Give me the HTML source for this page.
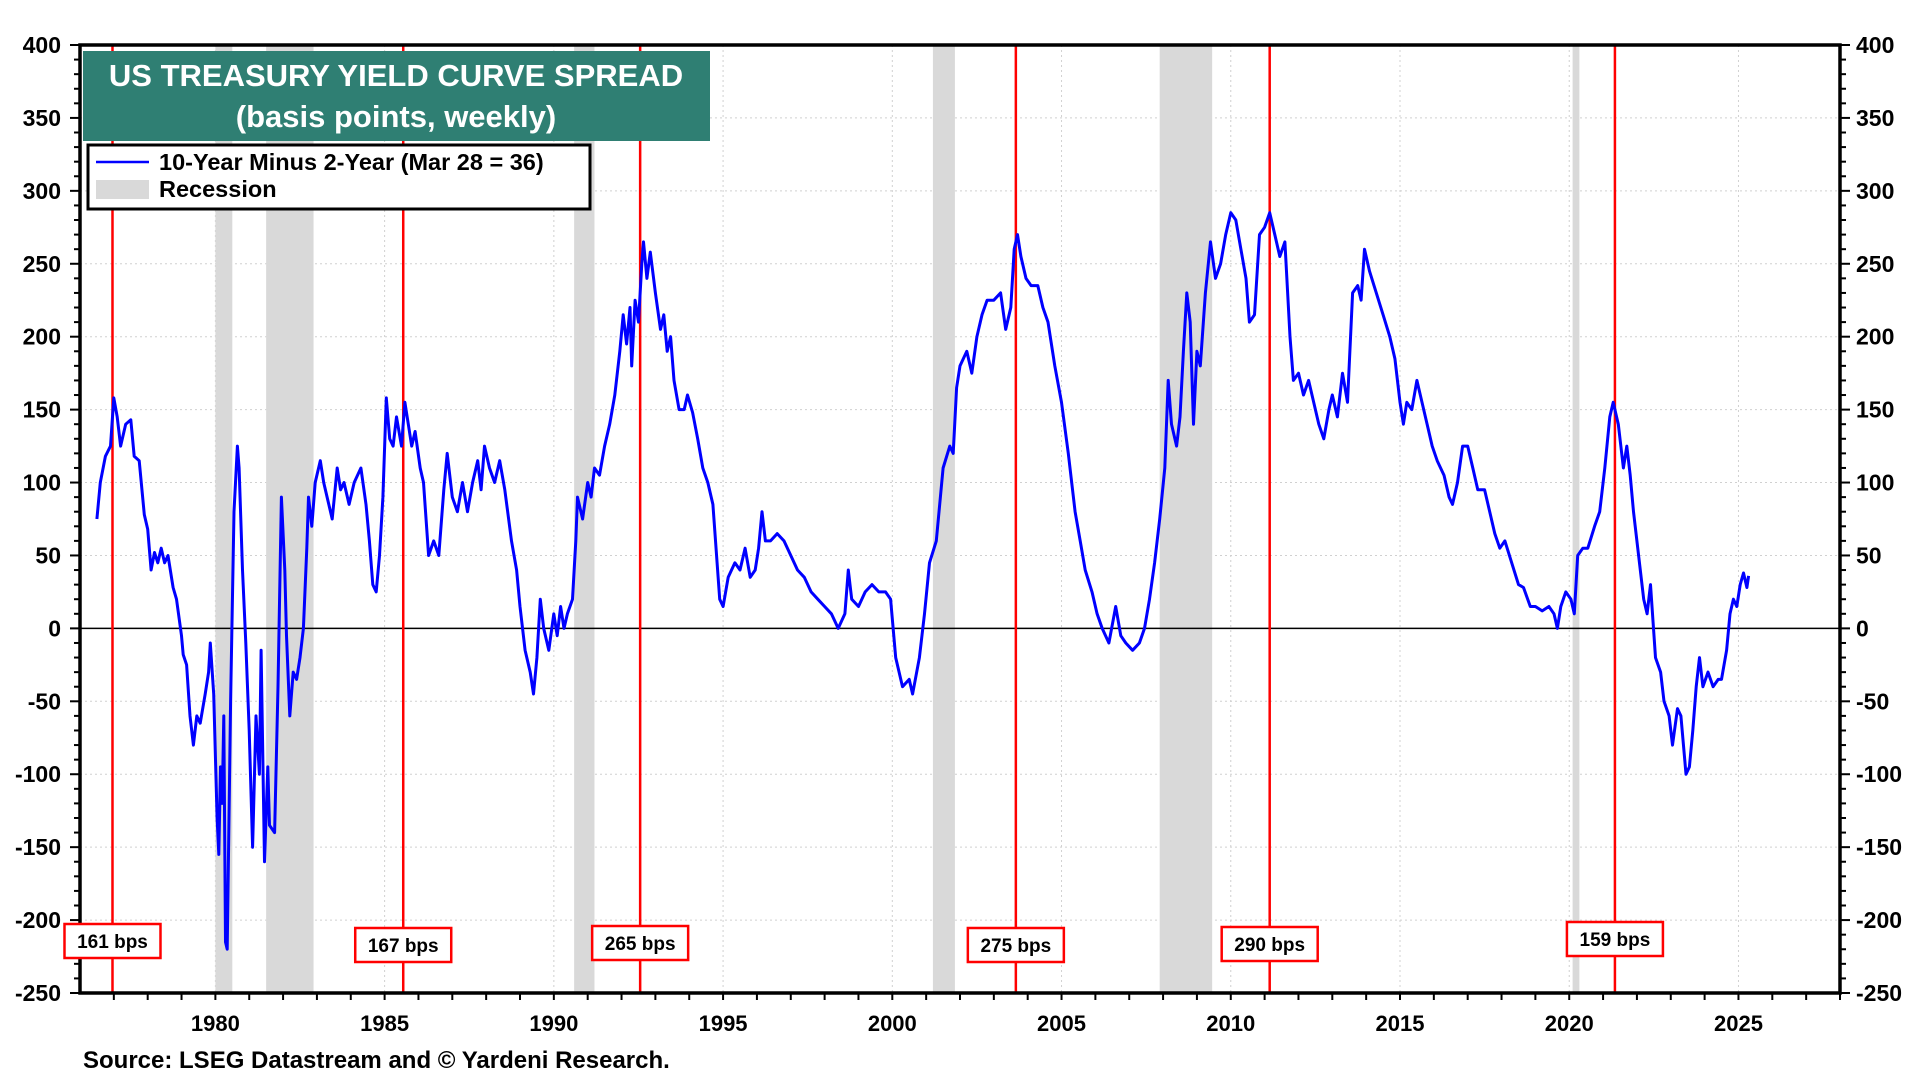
<!DOCTYPE html>
<html><head><meta charset="utf-8"><style>
html,body{margin:0;padding:0;background:#fff;width:1920px;height:1080px;overflow:hidden}
svg text{font-family:"Liberation Sans",Arial,sans-serif;font-weight:bold}
</style></head><body>
<svg id="chart" width="1920" height="1080" viewBox="0 0 1920 1080" xmlns="http://www.w3.org/2000/svg">
<g id="grid"></g>
<g id="recess"></g>
<line id="zero" stroke="#000" stroke-width="1.5"/>
<g id="redlines"></g>
<path id="series" fill="none" stroke="#0000ff" stroke-width="3" stroke-linejoin="round"/>
<g id="axes"></g>
<g id="labels"></g>
<g>
<rect x="83" y="51" width="627" height="90" fill="#2f7f73"/>
<text x="396" y="86" text-anchor="middle" font-size="31" fill="#fff">US TREASURY YIELD CURVE SPREAD</text>
<text x="396" y="127" text-anchor="middle" font-size="31" fill="#fff">(basis points, weekly)</text>
</g>
<g>
<rect x="88" y="145" width="502" height="64" fill="#fff" stroke="#000" stroke-width="3"/>
<line x1="96" y1="162" x2="149" y2="162" stroke="#0000ff" stroke-width="2.5"/>
<text x="159" y="170" font-size="23.5">10-Year Minus 2-Year (Mar 28 = 36)</text>
<rect x="96" y="180" width="53" height="19" fill="#d9d9d9"/>
<text x="159" y="197" font-size="23.5">Recession</text>
</g>
<text x="83" y="1068" font-size="24">Source: LSEG Datastream and © Yardeni Research.</text>
</svg>
<script>
const seriesYears=[1976.5,1976.6,1976.75,1976.9,1977.0,1977.1,1977.2,1977.35,1977.5,1977.6,1977.75,1977.9,1978.0,1978.1,1978.2,1978.3,1978.4,1978.5,1978.6,1978.75,1978.85,1979.0,1979.05,1979.15,1979.25,1979.3,1979.35,1979.45,1979.55,1979.7,1979.8,1979.85,1979.95,1980.05,1980.1,1980.15,1980.2,1980.25,1980.3,1980.35,1980.45,1980.55,1980.65,1980.7,1980.8,1980.9,1981.0,1981.1,1981.2,1981.3,1981.35,1981.45,1981.55,1981.6,1981.75,1981.85,1981.95,1982.05,1982.1,1982.2,1982.3,1982.4,1982.5,1982.6,1982.7,1982.75,1982.85,1982.95,1983.1,1983.2,1983.3,1983.45,1983.6,1983.7,1983.8,1983.95,1984.1,1984.3,1984.45,1984.55,1984.65,1984.75,1984.85,1984.95,1985.05,1985.15,1985.25,1985.35,1985.5,1985.6,1985.7,1985.8,1985.9,1986.05,1986.15,1986.3,1986.45,1986.6,1986.75,1986.85,1987.0,1987.15,1987.3,1987.45,1987.6,1987.75,1987.85,1987.95,1988.1,1988.25,1988.4,1988.55,1988.75,1988.9,1989.0,1989.15,1989.3,1989.4,1989.5,1989.6,1989.7,1989.85,1990.0,1990.1,1990.2,1990.3,1990.4,1990.55,1990.65,1990.7,1990.85,1991.0,1991.1,1991.2,1991.35,1991.5,1991.65,1991.8,1991.95,1992.05,1992.15,1992.25,1992.3,1992.4,1992.5,1992.6,1992.65,1992.75,1992.85,1993.0,1993.15,1993.25,1993.35,1993.45,1993.55,1993.7,1993.85,1993.95,1994.1,1994.25,1994.4,1994.55,1994.7,1994.9,1995.0,1995.15,1995.35,1995.5,1995.65,1995.8,1995.95,1996.05,1996.15,1996.25,1996.4,1996.6,1996.8,1997.0,1997.2,1997.4,1997.6,1997.8,1998.0,1998.2,1998.4,1998.6,1998.7,1998.8,1999.0,1999.2,1999.4,1999.6,1999.8,1999.95,2000.1,2000.3,2000.5,2000.6,2000.8,2000.95,2001.1,2001.3,2001.5,2001.7,2001.8,2001.9,2002.0,2002.2,2002.35,2002.5,2002.65,2002.8,2003.0,2003.2,2003.35,2003.5,2003.6,2003.7,2003.8,2003.95,2004.1,2004.3,2004.45,2004.6,2004.8,2005.0,2005.2,2005.4,2005.55,2005.7,2005.9,2006.05,2006.2,2006.4,2006.6,2006.75,2006.9,2007.1,2007.3,2007.45,2007.6,2007.75,2007.9,2008.05,2008.15,2008.25,2008.4,2008.5,2008.6,2008.7,2008.8,2008.9,2009.0,2009.1,2009.25,2009.4,2009.55,2009.7,2009.85,2010.0,2010.15,2010.3,2010.45,2010.55,2010.7,2010.85,2011.0,2011.15,2011.3,2011.45,2011.6,2011.75,2011.85,2012.0,2012.15,2012.3,2012.45,2012.6,2012.75,2012.9,2013.0,2013.15,2013.3,2013.45,2013.6,2013.75,2013.85,2013.95,2014.1,2014.3,2014.5,2014.7,2014.85,2015.0,2015.1,2015.2,2015.35,2015.5,2015.65,2015.8,2015.95,2016.1,2016.3,2016.45,2016.55,2016.7,2016.85,2017.0,2017.15,2017.3,2017.5,2017.65,2017.8,2017.95,2018.1,2018.3,2018.5,2018.65,2018.85,2019.0,2019.2,2019.4,2019.55,2019.65,2019.75,2019.9,2020.05,2020.15,2020.25,2020.4,2020.55,2020.75,2020.9,2021.05,2021.2,2021.3,2021.45,2021.6,2021.7,2021.8,2021.9,2022.05,2022.2,2022.3,2022.4,2022.55,2022.7,2022.8,2022.95,2023.05,2023.2,2023.3,2023.45,2023.55,2023.65,2023.75,2023.85,2023.95,2024.1,2024.25,2024.4,2024.5,2024.65,2024.75,2024.85,2024.95,2025.05,2025.15,2025.25,2025.3];
const seriesValues=[75,100,118,125,158,145,125,140,143,118,115,78,68,40,52,45,55,45,50,28,20,-5,-18,-25,-60,-70,-80,-60,-65,-45,-30,-10,-45,-130,-155,-95,-120,-60,-215,-220,-50,80,125,110,40,-10,-70,-150,-60,-100,-15,-160,-95,-135,-140,-40,90,40,-5,-60,-30,-35,-20,0,55,90,70,100,115,100,90,75,110,95,100,85,100,110,85,60,30,25,50,90,158,130,125,145,125,155,140,125,135,110,100,50,60,50,95,120,90,80,100,80,100,115,95,125,110,100,115,95,60,40,15,-15,-30,-45,-20,20,0,-15,10,-5,15,0,10,20,60,90,75,100,90,110,105,125,140,160,190,215,195,220,180,225,210,250,265,240,258,230,205,215,190,200,170,150,150,160,148,130,110,100,85,20,15,35,45,40,55,35,40,55,80,60,60,65,60,50,40,35,25,20,15,10,0,10,40,20,15,25,30,25,25,20,-20,-40,-35,-45,-20,10,45,60,110,125,120,165,180,190,175,200,215,225,225,230,205,220,260,270,255,240,235,235,220,210,180,155,120,80,60,40,25,10,0,-10,15,-5,-10,-15,-10,0,20,45,75,110,170,140,125,145,190,230,210,140,190,180,230,265,240,250,270,285,280,260,240,210,215,270,275,285,270,255,265,200,170,175,160,170,155,140,130,150,160,145,175,155,230,235,225,260,245,230,215,200,185,155,140,155,150,170,155,140,125,115,105,90,85,100,125,125,110,95,95,80,65,55,60,45,30,28,15,15,12,15,10,0,15,25,20,10,50,55,55,70,80,110,145,155,140,110,125,105,80,50,20,10,30,-20,-30,-50,-60,-80,-55,-60,-100,-95,-70,-40,-20,-40,-30,-40,-35,-35,-15,10,20,15,30,38,28,36];
const recessionStarts=[1980.0,1981.5,1990.6,2001.2,2007.9,2020.1];
const recessionEnds=[1980.5,1982.9,1991.2,2001.85,2009.45,2020.3];
const peakYears=[1976.96,1985.55,1992.55,2003.65,2011.15,2021.35];
const peakLabels=["161 bps","167 bps","265 bps","275 bps","290 bps","159 bps"];
const yTicks=[400,350,300,250,200,150,100,50,0,-50,-100,-150,-200,-250];
const xTickYears=[1980,1985,1990,1995,2000,2005,2010,2015,2020,2025];

const L=80,R=1840,T=45,B=993,X0=1976.0,X1=2028.0,Y0=-250,Y1=400;
const xs=v=>L+(v-X0)/(X1-X0)*(R-L);
const ys=v=>B-(v-Y0)/(Y1-Y0)*(B-T);
const NS="http://www.w3.org/2000/svg";
function mk(tag,attrs,parent){const e=document.createElementNS(NS,tag);for(const k in attrs)e.setAttribute(k,attrs[k]);parent.appendChild(e);return e;}
const grid=document.getElementById('grid');
yTicks.forEach(v=>{const l=mk('line',{x1:L,x2:R,y1:ys(v),y2:ys(v),stroke:'#d0d0d0','stroke-width':1,'stroke-dasharray':'2,3'},grid);

});
xTickYears.forEach(v=>{const l=mk('line',{x1:xs(v),x2:xs(v),y1:T,y2:B,stroke:'#d0d0d0','stroke-width':1,'stroke-dasharray':'2,3'},grid);

});
const rec=document.getElementById('recess');
recessionStarts.forEach((s,i)=>{const r=mk('rect',{x:xs(s),y:T,width:xs(recessionEnds[i])-xs(s),height:B-T,fill:'#d9d9d9'},rec);

});
const z=document.getElementById('zero');z.setAttribute('x1',L);z.setAttribute('x2',R);z.setAttribute('y1',ys(0));z.setAttribute('y2',ys(0));
const rl=document.getElementById('redlines');
peakYears.forEach(y=>{const l=mk('line',{x1:xs(y),x2:xs(y),y1:T,y2:B,stroke:'#ff0000','stroke-width':2.5},rl);

});
let d='';seriesYears.forEach((y,i)=>{d+=(i?'L':'M')+xs(y).toFixed(1)+','+ys(seriesValues[i]).toFixed(1);});
document.getElementById('series').setAttribute('d',d);
const ax=document.getElementById('axes');
mk('rect',{x:L,y:T,width:R-L,height:B-T,fill:'none',stroke:'#000','stroke-width':3.5},ax);
for(let v=Y0;v<=Y1;v+=10){const big=v%50===0;
mk('line',{x1:L-(big?10:6),x2:L,y1:ys(v),y2:ys(v),stroke:'#000','stroke-width':2},ax);
mk('line',{x1:R,x2:R+(big?10:6),y1:ys(v),y2:ys(v),stroke:'#000','stroke-width':2},ax);}
for(let y=1977;y<=2028;y++){mk('line',{x1:xs(y),x2:xs(y),y1:B,y2:B+7,stroke:'#000','stroke-width':2},ax);}
yTicks.forEach(v=>{const t=mk('text',{x:61,y:ys(v)+8,'text-anchor':'end','font-size':23},ax);t.textContent=v;


const t2=mk('text',{x:1856,y:ys(v)+8,'font-size':23},ax);t2.textContent=v;

});
xTickYears.forEach(v=>{const t=mk('text',{x:xs(v),y:1031,'text-anchor':'middle','font-size':22},ax);t.textContent=v;

});
const lb=document.getElementById('labels');const boxTops=[924,928,926,928,927,922];
peakYears.forEach((y,i)=>{const cx=xs(y);
const r=mk('rect',{x:cx-48,y:boxTops[i],width:96,height:34,fill:'#fff',stroke:'#ff0000','stroke-width':2.5},lb);


const t=mk('text',{x:cx,y:boxTops[i]+24,'text-anchor':'middle','font-size':19},lb);t.textContent=peakLabels[i];

});
</script>
</body></html>
